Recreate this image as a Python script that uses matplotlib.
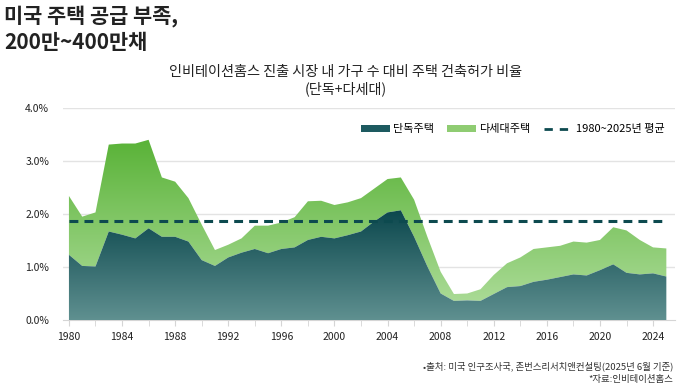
import numpy as np
import matplotlib
matplotlib.use('Agg')
import matplotlib.pyplot as plt
from matplotlib.colors import LinearSegmentedColormap
from matplotlib.patches import Patch
from matplotlib.lines import Line2D

plt.rcParams['font.family'] = ['Noto Sans CJK KR', 'DejaVu Sans']

# data (% of households)
years = list(range(1980, 2026))
single = [1.23, 1.02, 1.01, 1.67, 1.61, 1.54, 1.73, 1.57, 1.57, 1.48,
          1.13, 1.02, 1.18, 1.27, 1.34, 1.26, 1.34, 1.37, 1.51, 1.57,
          1.54, 1.60, 1.67, 1.86, 2.03, 2.07, 1.57, 1.01, 0.50, 0.36,
          0.37, 0.36, 0.49, 0.62, 0.64, 0.72, 0.76, 0.81, 0.86, 0.84,
          0.94, 1.05, 0.89, 0.86, 0.88, 0.82]
multi = [1.11, 0.93, 1.02, 1.64, 1.72, 1.79, 1.67, 1.12, 1.04, 0.82,
         0.67, 0.30, 0.24, 0.27, 0.44, 0.52, 0.50, 0.57, 0.73, 0.68,
         0.63, 0.62, 0.63, 0.62, 0.63, 0.62, 0.70, 0.56, 0.41, 0.13,
         0.13, 0.22, 0.36, 0.45, 0.54, 0.62, 0.61, 0.59, 0.62, 0.62,
         0.57, 0.70, 0.80, 0.65, 0.49, 0.53]
avg = 1.87

yticks = [0, 1, 2, 3, 4]
ytick_labels = ['0.0%', '1.0%', '2.0%', '3.0%', '4.0%']
xticks_major = list(range(1980, 2025, 4))
xticks_minor = list(range(1980, 2026, 2))

x = np.array(years, dtype=float)
s = np.array(single)
t = s + np.array(multi)

fig = plt.figure(figsize=(6.8, 3.84), dpi=100)
ax = fig.add_axes([0.0926, 0.1667, 0.90, 0.552])
xlo, xhi = 1979.55, 2025.65
ax.set_xlim(xlo, xhi)
ax.set_ylim(0, 4.0)

green = LinearSegmentedColormap.from_list('g', ['#b3dfa0', '#58b236'])
teal = LinearSegmentedColormap.from_list('t', ['#5f9090', '#0a464c'])

grad = np.linspace(0, 1, 256).reshape(-1, 1)

poly_g = ax.fill_between(x, s, t, facecolor='none', edgecolor='none', zorder=2)
im_g = ax.imshow(grad, cmap=green, origin='lower', aspect='auto',
                 extent=[xlo, xhi, 0, 3.45], zorder=2)
im_g.set_clip_path(poly_g.get_paths()[0], transform=ax.transData)

poly_t = ax.fill_between(x, 0, s, facecolor='none', edgecolor='none', zorder=3)
im_t = ax.imshow(grad, cmap=teal, origin='lower', aspect='auto',
                 extent=[xlo, xhi, 0, 2.1], zorder=3)
im_t.set_clip_path(poly_t.get_paths()[0], transform=ax.transData)

ax.set_xlim(xlo, xhi)
ax.set_ylim(0, 4.0)

ax.plot([1980, 2024.8], [avg, avg], color='#0d4a4f', lw=2.2,
        dashes=(2.9, 2.0), zorder=4)

for v in yticks[1:]:
    ax.axhline(v, color='#e3e3e3', lw=1, zorder=1)

for sp in ['top', 'right', 'left']:
    ax.spines[sp].set_visible(False)
ax.spines['bottom'].set_color('#d5d5d5')

ax.set_yticks(yticks)
ax.set_yticklabels(ytick_labels, fontsize=7.5, color='#222222', fontweight='medium')
ax.tick_params(axis='y', length=0, pad=10)
ax.set_xticks(xticks_major)
ax.set_xticklabels([str(v) for v in xticks_major], fontsize=7.5, color='#222222',
                   fontweight='medium')
ax.set_xticks(xticks_minor, minor=True)
ax.tick_params(axis='x', which='both', length=4, color='#d5d5d5', pad=5)

handles = [Patch(facecolor='#1d5a60', edgecolor='none'),
           Patch(facecolor='#8fcc72', edgecolor='none'),
           Line2D([0], [0], color='#0d4a4f', lw=2, dashes=(3, 2.5))]
ax.legend(handles, ['단독주택', '다세대주택', '1980~2025년 평균'],
          loc='upper right', bbox_to_anchor=(1.0, 0.97), ncol=3, frameon=False,
          fontsize=8, handlelength=2.6, handleheight=0.5, handletextpad=0.3,
          columnspacing=1.2)

fig.text(0.006, 0.988, '미국 주택 공급 부족,\n200만~400만채', fontsize=15,
         fontweight='bold', va='top', ha='left', color='#222222', linespacing=1.3)
fig.text(0.508, 0.83, '인비테이션홈스 진출 시장 내 가구 수 대비 주택 건축허가 비율\n(단독+다세대)',
         fontsize=10.2, ha='center', va='top', color='#222222', linespacing=1.2)
fig.text(0.99, 0.047, '•출처: 미국 인구조사국, 존번스리서치앤컨설팅(2025년 6월 기준)',
         fontsize=6.8, ha='right', va='center', color='#333333')
fig.text(0.99, 0.013, '*자료:인비테이션홈스', fontsize=6.8, ha='right',
         va='center', color='#333333')

fig.savefig('out.png', dpi=100)
